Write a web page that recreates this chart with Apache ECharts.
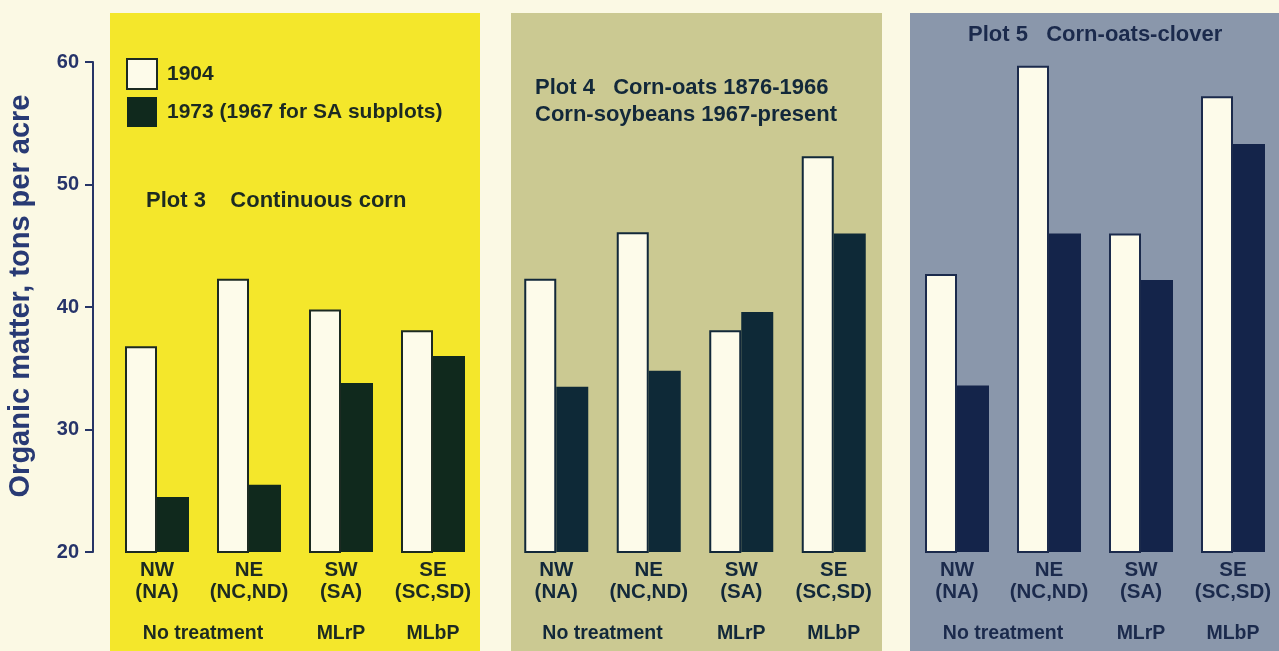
<!DOCTYPE html>
<html>
<head>
<meta charset="utf-8">
<script src="https://cdn.jsdelivr.net/npm/echarts@6/dist/echarts.min.js"></script>
<style>
  html, body { margin: 0; padding: 0; background: #fbf9e4; }
  #chart { width: 1279px; height: 651px; }
</style>
</head>
<body>
<div id="chart"></div>
<script>
var subplots = ['NW', 'NE', 'SW', 'SE']
var subplotCodes = ['(NA)', '(NC,ND)', '(SA)', '(SC,SD)']
var treatments = ['No treatment', 'MLrP', 'MLbP']
// which subplots each treatment label sits under (first, last index)
var treatmentSpans = [[0, 1], [2, 2], [3, 3]]

var plotTitles = [
  'Plot 3    Continuous corn',
  'Plot 4   Corn-oats 1876-1966\nCorn-soybeans 1967-present',
  'Plot 5   Corn-oats-clover'
]

// organic matter, tons per acre
var plot3_1904 = [36.8, 42.3, 39.8, 38.1]
var plot3_1973 = [24.5, 25.5, 33.8, 36.0]
var plot4_1904 = [42.3, 46.1, 38.1, 52.3]
var plot4_1973 = [33.5, 34.8, 39.6, 46.0]
var plot5_1904 = [42.7, 59.7, 46.0, 57.2]
var plot5_1973 = [33.6, 46.0, 42.2, 53.3]

var yTicks = [20, 30, 40, 50, 60]

var name1904 = '1904'
var name1973 = '1973 (1967 for SA subplots)'

var font = '"Liberation Sans", Arial, Helvetica, sans-serif'

var panels = [
  { left: 111, width: 368, bgX: 110, bgW: 370, bg: '#f4e72b', dark: '#10291d', ink: '#1c2a22', v1904: plot3_1904, v1973: plot3_1973 },
  { left: 510, width: 370, bgX: 511, bgW: 371, bg: '#cbc992', dark: '#0e2937', ink: '#12283a', v1904: plot4_1904, v1973: plot4_1973 },
  { left: 911, width: 368, bgX: 910, bgW: 369, bg: '#8a97ab', dark: '#14244a', ink: '#1b2a4c', v1904: plot5_1904, v1973: plot5_1973 }
]
var titlePos = [
  { left: 146, top: 187 },
  { left: 535, top: 74 },
  { left: 968, top: 21 }
]

var categoryData = subplots.map(function (s, i) {
  return s + '\n' + subplotCodes[i]
})
var treatmentCenters = treatmentSpans.map(function (s) {
  return (s[0] + s[1]) / 2
})

var grids = []
var xAxes = []
var yAxes = []
var series = []
var titles = []
var graphics = []

panels.forEach(function (p, k) {
  graphics.push({
    type: 'rect',
    silent: true,
    z: -10,
    shape: { x: p.bgX, y: 13, width: p.bgW, height: 638 },
    style: { fill: p.bg }
  })

  grids.push({ left: p.left, width: p.width, top: 62, bottom: 99 })

  xAxes[k] = {
    type: 'category',
    gridIndex: k,
    data: categoryData,
    axisLine: { show: false, onZero: false },
    axisTick: { show: false },
    axisLabel: {
      interval: 0,
      margin: 7,
      color: p.ink,
      fontFamily: font,
      fontWeight: 'bold',
      fontSize: 20.5,
      lineHeight: 22
    }
  }
  xAxes[k + 3] = {
    type: 'value',
    gridIndex: k,
    position: 'bottom',
    min: -0.5,
    max: subplots.length - 0.5,
    axisLine: { show: false, onZero: false },
    axisTick: { show: false },
    splitLine: { show: false },
    axisLabel: {
      customValues: treatmentCenters,
      formatter: function (v) {
        var i = treatmentCenters.indexOf(v)
        return i >= 0 ? treatments[i] : ''
      },
      margin: 72,
      color: p.ink,
      fontFamily: font,
      fontWeight: 'bold',
      fontSize: 19.5
    }
  }

  yAxes.push({
    type: 'value',
    gridIndex: k,
    show: k === 0,
    min: 20,
    max: 60,
    interval: 10,
    offset: 18,
    name: k === 0 ? 'Organic matter, tons per acre' : '',
    nameLocation: 'middle',
    nameRotate: 90,
    nameGap: 58,
    nameTextStyle: {
      color: '#283a74',
      fontFamily: font,
      fontWeight: 'bold',
      fontSize: 29,
      padding: [0, 0, 0, 22]
    },
    axisLine: { show: true, onZero: false, lineStyle: { color: '#263566', width: 2 } },
    axisTick: { show: true, length: 8, lineStyle: { color: '#263566', width: 2 } },
    splitLine: { show: false },
    axisLabel: {
      margin: 14,
      color: '#26346a',
      fontFamily: font,
      fontWeight: 'bold',
      fontSize: 20,
      customValues: yTicks
    }
  })

  series.push({
    name: name1904,
    type: 'bar',
    xAxisIndex: k,
    yAxisIndex: k,
    data: p.v1904,
    barWidth: 32,
    barGap: '0%',
    itemStyle: { color: '#fdfbea', borderColor: p.ink, borderWidth: 2 },
    emphasis: { disabled: true }
  })
  series.push({
    name: name1973,
    type: 'bar',
    xAxisIndex: k,
    yAxisIndex: k,
    data: p.v1973,
    barWidth: 32,
    barGap: '0%',
    itemStyle: { color: p.dark },
    emphasis: { disabled: true }
  })

  titles.push({
    text: plotTitles[k],
    left: titlePos[k].left,
    top: titlePos[k].top,
    padding: 0,
    textStyle: {
      color: p.ink,
      fontFamily: font,
      fontWeight: 'bold',
      fontSize: 22,
      lineHeight: 27
    }
  })
})

var chart = echarts.init(document.getElementById('chart'))
chart.setOption({
  backgroundColor: '#fbf9e4',
  animation: false,
  title: titles,
  graphic: graphics,
  legend: {
    orient: 'vertical',
    left: 126,
    top: 58,
    padding: 0,
    itemWidth: 30,
    itemHeight: 30,
    itemGap: 7,
    icon: 'rect',
    selectedMode: false,
    data: [name1904, name1973],
    textStyle: {
      color: '#1c2a22',
      fontFamily: font,
      fontWeight: 'bold',
      fontSize: 21,
      padding: [0, 0, 0, 5]
    }
  },
  grid: grids,
  xAxis: xAxes,
  yAxis: yAxes,
  series: series
})
</script>
</body>
</html>
